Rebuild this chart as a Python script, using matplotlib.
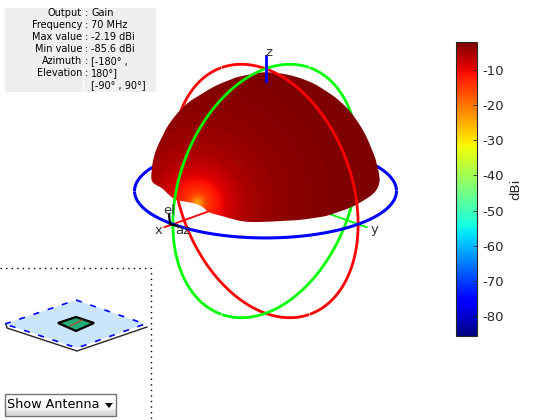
import numpy as np
import matplotlib
matplotlib.use('Agg')
import matplotlib.pyplot as plt
from matplotlib.cm import ScalarMappable
from matplotlib.colors import Normalize
from matplotlib.patches import Polygon, Rectangle

plt.rcParams['axes.unicode_minus'] = False

# readout table
info_names = ['Output', 'Frequency', 'Max value', 'Min value', 'Azimuth', 'Elevation', '']
info_colons = [':', ':', ':', ':', ':', ':', '']
info_values = ['Gain', '70 MHz', '-2.19 dBi', '-85.6 dBi', '[-180° ,', '180°]', '[-90° , 90°]']

# colorbar
gain_min = -85.6
gain_max = -2.19
cbar_ticks = [-10, -20, -30, -40, -50, -60, -70, -80]

# gain lobe outline (pixels)
dome_x = [151, 152, 153, 156, 159, 163, 167, 174, 182, 190, 200, 208, 217, 227, 237, 247, 257, 266,
          278, 290, 303, 315, 326, 335, 343, 350, 358, 364, 368, 372, 375, 377, 379, 380, 375, 363,
          350, 338, 327, 314, 300, 282, 263, 245, 232, 222, 214, 208, 203, 197, 188, 175, 168, 162,
          156, 152]
dome_y = [177, 168, 160, 150, 143, 135, 127, 117, 108, 101, 95, 90, 85, 81, 77, 75, 73, 72,
          73, 75, 79, 84, 91, 97, 104, 111, 122, 132, 140, 150, 157, 165, 173, 183, 193, 201,
          208, 212, 216, 218, 220, 221, 222, 222, 219, 216, 214, 212, 207, 204, 202, 200, 194, 188,
          185, 182]

# gain against distance from the hot spot at the lobe edge
hot_dist = [0, 3, 6, 10, 15, 22, 30, 45, 65, 100, 140, 250]
hot_gain = [-25, -22, -18, -15, -13, -11, -8.5, -6, -4.2, -3, -2.4, -2.19]

# antenna thumbnail
ground_x = [5, 76, 145, 77]
ground_y = [324, 300, 324, 348]
patch_x = [58, 76, 94, 76]
patch_y = [323, 317, 323, 331]

fig = plt.figure(figsize=(5.6, 4.2), dpi=100)
ax = fig.add_axes([0, 0, 1, 1])

# view of the 3D sphere frame
cx, cy = 265.5, 191
R = 131
el = np.radians(21)
az = np.radians(45)


def project(x, y, z):
    px = cx + R * (y - x) * np.sin(az)
    py = cy + R * ((x + y) * np.cos(az) * np.sin(el) - z * np.cos(el))
    depth = (x + y) * np.cos(az) * np.cos(el) + z * np.sin(el)
    return px, py, depth


def draw_curve(x, y, z, color, lw, front_z=4, back_z=1):
    px, py, depth = project(x, y, z)
    front = np.where(depth >= 0, py, np.nan)
    back = np.where(depth < 0, py, np.nan)
    ax.plot(px, front, color=color, lw=lw, zorder=front_z, solid_capstyle='butt')
    ax.plot(px, back, color=color, lw=lw, zorder=back_z, solid_capstyle='butt')


def round_corners(pts):
    # corner cutting so the outline does not look faceted
    for _ in range(2):
        nxt = np.roll(pts, -1, axis=0)
        pts = np.column_stack([0.75 * pts + 0.25 * nxt, 0.25 * pts + 0.75 * nxt]).reshape(-1, 2)
    return pts


t = np.linspace(0, 2 * np.pi, 721)
zero = np.zeros_like(t)
draw_curve(zero, np.cos(t), np.sin(t), '#ff0000', 2.0)
draw_curve(np.cos(t), zero, np.sin(t), '#00ff00', 2.0)
draw_curve(np.cos(t), np.sin(t), zero, '#0000ff', 2.2, front_z=5)

# axis lines
s = np.linspace(0, 1.1, 50)
draw_curve(s, s * 0, s * 0, '#ff0000', 1.3, front_z=1, back_z=1)
draw_curve(s * 0, s, s * 0, '#00ff00', 1.3, front_z=1, back_z=1)
zx, zy, _ = project(np.array([0.0, 0.0]), np.array([0.0, 0.0]), np.array([0.9, 1.1]))
ax.plot(zx, zy, color='#0000ff', lw=2, zorder=6)

# lobe
xx, yy = np.meshgrid(np.arange(140, 395), np.arange(60, 230))
dist = np.hypot(xx - 197, yy - 202)
gain = np.interp(dist, hot_dist, hot_gain)
img = ax.imshow(gain, cmap='jet', vmin=gain_min, vmax=gain_max, extent=[140, 395, 230, 60],
                interpolation='bilinear', zorder=2, aspect='auto')
dome = Polygon(round_corners(np.column_stack([dome_x, dome_y]).astype(float)), closed=True,
               transform=ax.transData, fc='none', ec='none')
ax.add_patch(dome)
img.set_clip_path(dome)

# axis names and the small az/el marker
for lab, lx, ly in [('z', 269, 52), ('y', 375, 229), ('x', 159, 231), ('el', 169, 210), ('az', 183, 231)]:
    ax.text(lx, ly, lab, fontsize=9.5, color='0.2', ha='center', va='center', zorder=7)
ax.plot([169, 170, 178], [214, 224, 226], color='k', lw=1.6, zorder=6)

# readout table
ax.add_patch(Rectangle((5, 8), 78, 84, fc='#efefef', ec='none', zorder=1))
ax.add_patch(Rectangle((84, 8), 72, 84, fc='#efefef', ec='none', zorder=1))
for i in range(len(info_names)):
    row_y = 13 + 12 * i
    ax.text(82, row_y, info_names[i], fontsize=7.0, ha='right', va='center', color='k', zorder=7)
    ax.text(86, row_y, info_colons[i], fontsize=7.0, ha='center', va='center', color='k', zorder=7)
    ax.text(91, row_y, info_values[i], fontsize=7.0, ha='left', va='center', color='k', zorder=7)

# dotted frame round the thumbnail
ax.plot([0, 151, 151], [268, 268, 420], color='k', lw=1, ls=(0, (1, 3)), zorder=1)

# thumbnail: board edge, ground plane, patch
gx = np.array(ground_x)
gy = np.array(ground_y)
ax.plot([gx[0] + 1, gx[0] + 2, gx[3], gx[2] + 2], [gy[0], gy[0] + 4, gy[3] + 3, gy[2] + 3],
        color='0.15', lw=1, zorder=2)
ax.add_patch(Polygon(np.column_stack([gx, gy]), closed=True, fc='#cce5ff', ec='#0000ff', lw=1.2,
                     ls=(0, (3.6, 5.4)), zorder=3))
ax.add_patch(Polygon(np.column_stack([patch_x, patch_y]), closed=True, fc='#22aa77', ec='k', lw=1.6, zorder=4))
ax.plot([patch_x[0] + 12, patch_x[2] - 12], [patch_y[0] + 3, patch_y[2] - 3], color='#aa5533', lw=1, zorder=5)

# dropdown
ax.imshow([[1.0], [1.0], [0.97], [0.85]], cmap='gray', vmin=0, vmax=1, extent=[5, 116, 416, 394],
          interpolation='bilinear', zorder=2, aspect='auto')
ax.add_patch(Rectangle((5, 394), 111, 22, fc='none', ec='0.45', lw=1, zorder=3))
ax.text(7, 405, 'Show Antenna', fontsize=9.2, ha='left', va='center', color='k', zorder=4)
ax.add_patch(Polygon([(105, 403), (113, 403), (109, 408)], closed=True, fc='k', ec='none', zorder=4))

ax.set_xlim(0, 560)
ax.set_ylim(420, 0)
ax.axis('off')

# colorbar
cax = fig.add_axes([456 / 560, (420 - 336) / 420, 21 / 560, 294 / 420])
cb = fig.colorbar(ScalarMappable(Normalize(gain_min, gain_max), cmap='jet'), cax=cax)
cb.set_ticks(cbar_ticks)
cb.ax.tick_params(direction='in', length=3, width=0.6, labelsize=9.5, colors='0.15', pad=4)
cb.set_label('dBi', fontsize=9.5, color='0.15', labelpad=4)
cb.outline.set_edgecolor('0.15')
cb.outline.set_linewidth(0.8)

fig.savefig('out.png', dpi=100)
